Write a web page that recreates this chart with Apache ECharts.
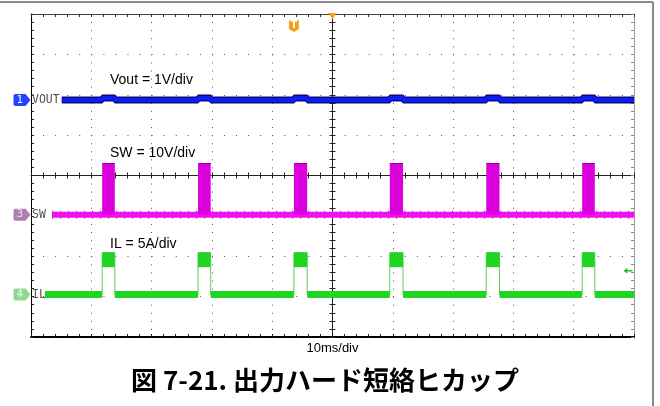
<!DOCTYPE html>
<html>
<head>
<meta charset="utf-8">
<title>図 7-21</title>
<script src="https://cdn.jsdelivr.net/npm/echarts@6/dist/echarts.min.js"></script>
<style>
    html, body { margin: 0; padding: 0; background: #fff; }
    #scope { width: 660px; height: 406px; }
</style>
</head>
<body>
<div id="scope"></div>
<script>
// time axis: ms, 0 = centre of the screen (10ms/div)
const pulseStart = [-38.2, -22.3, -6.4, 9.5, 25.5, 41.4];
const pulseEnd = [-36.1, -20.2, -4.2, 11.7, 27.7, 43.5];
const traceStart = [-44.9, -46.5, -47.7]; // VOUT, SW, IL (after the channel names)
const traceEnd = 50;
const trigTime = -6.4;

// channel values in their own units
const voutBump = [0.05, 0.05, 0.05, 0.05, 0.05, 0.05]; // V
const swHigh = [12.8, 12.8, 12.8, 12.8, 12.8, 12.8];   // V
const ilPeakTop = [5.2, 5.2, 5.2, 5.2, 5.2, 5.2];      // A
const ilPeakBottom = [3.4, 3.4, 3.4, 3.4, 3.4, 3.4];   // A
const ilTrigLevel = 2.95;                              // A

// channel setup
const chName = ["VOUT", "SW", "IL"];
const chNumber = ["1", "3", "4"];
const chScale = [1, 10, 5];           // units per div
const chOffset = [1.87, -0.97, -2.95]; // ground level, div from centre

function toDiv(ch, v) {
    return chOffset[ch] + v / chScale[ch];
}

// step waveform with the pulse windows at the given level
function stepWave(ch, start, levels) {
    const pts = [[start, toDiv(ch, 0)]];
    pulseStart.forEach((s, i) => {
        pts.push([s, toDiv(ch, 0)], [s, toDiv(ch, levels[i])],
                 [pulseEnd[i], toDiv(ch, levels[i])], [pulseEnd[i], toDiv(ch, 0)]);
    });
    pts.push([traceEnd, toDiv(ch, 0)]);
    return pts;
}

// baseline with gaps where the pulses are
function gappedBase(ch, start) {
    const pts = [[start, toDiv(ch, 0)]];
    pulseStart.forEach((s, i) => {
        pts.push([s, toDiv(ch, 0)], "-", [pulseEnd[i], toDiv(ch, 0)]);
    });
    pts.push([traceEnd, toDiv(ch, 0)]);
    return pts;
}

function pulseBoxes(ch, lo, hi) {
    return pulseStart.map((s, i) => [s, pulseEnd[i], toDiv(ch, lo[i]), toDiv(ch, hi[i])]);
}

function rectItem(fill, topEdge) {
    return function (params, api) {
        const a = api.coord([api.value(0), api.value(2)]);
        const b = api.coord([api.value(1), api.value(3)]);
        const children = [{
            type: "rect",
            shape: { x: a[0], y: b[1], width: b[0] - a[0], height: a[1] - b[1] },
            style: { fill: fill },
        }];
        if (topEdge) {
            children.push({
                type: "line",
                shape: { x1: a[0], y1: b[1] + 0.5, x2: b[0], y2: b[1] + 0.5 },
                style: { stroke: topEdge, lineWidth: 1, lineDash: [1, 1] },
            });
        }
        return { type: "group", children: children };
    };
}

function chanMarker(ch, tagColor, textColor) {
    return [
        {
            coord: [-50, toDiv(ch, 0)],
            symbol: "path://M2,0 H12 L17,6 L12,12 H2 Q0,12 0,10 V2 Q0,0 2,0 Z",
            symbolSize: [17, 12],
            symbolOffset: [-9, 0],
            itemStyle: { color: tagColor },
            label: {
                show: true, position: "inside", offset: [-2, 0],
                formatter: chNumber[ch], color: textColor,
                fontSize: 10, fontFamily: "DejaVu Sans",
            },
        },
        {
            coord: [-50, toDiv(ch, 0)],
            symbol: "circle",
            symbolSize: 0,
            label: {
                show: true, position: "right", distance: 1,
                formatter: chName[ch], color: "#555",
                fontSize: 11.5, fontFamily: "DejaVu Sans Mono",
            },
        },
    ];
}

const timeRange = { min: -50, max: 50, interval: 10, axisLabel: { show: false } };
const divRange = { min: -4, max: 4, interval: 1, axisLabel: { show: false } };
const tick = (c) => ({ show: true, inside: true, length: 3, lineStyle: { color: c } });
const minor = (c) => ({ show: true, splitNumber: 5, length: 3, lineStyle: { color: c } });

const chart = echarts.init(document.getElementById("scope"));

chart.setOption({
    animation: false,
    backgroundColor: "#fff",
    grid: { left: 31, right: 26, top: 14, bottom: 69, outerBoundsMode: "none" },
    xAxis: [
        {
            // centre line, ticks up
            type: "value", ...timeRange, position: "bottom",
            axisLine: { onZero: true, onZeroAxisIndex: 0, lineStyle: { color: "#222", width: 1 } },
            axisTick: tick("#222"),
            minorTick: minor("#222"),
            splitLine: { show: true, lineStyle: { color: "#555", width: 1, type: [1, 7.075] } },
        },
        {
            // centre line, ticks down
            type: "value", ...timeRange, position: "top",
            axisLine: { show: false, onZero: true, onZeroAxisIndex: 0 },
            axisTick: tick("#222"),
            minorTick: minor("#222"),
            splitLine: { show: false },
        },
        {
            // bottom border
            type: "value", ...timeRange, position: "bottom",
            axisLine: { onZero: false, lineStyle: { color: "#000", width: 2 } },
            axisTick: tick("#222"),
            minorTick: minor("#222"),
            splitLine: { show: false },
        },
        {
            // top border
            type: "value", ...timeRange, position: "top",
            axisLine: { onZero: false, lineStyle: { color: "#444", width: 1 } },
            axisTick: tick("#333"),
            minorTick: minor("#333"),
            splitLine: { show: false },
        },
    ],
    yAxis: [
        {
            type: "value", ...divRange, position: "left",
            axisLine: { onZero: true, onZeroAxisIndex: 0, lineStyle: { color: "#222", width: 1 } },
            axisTick: tick("#222"),
            minorTick: minor("#222"),
            splitLine: { show: true, lineStyle: { color: "#555", width: 1, type: [1, 11.06] } },
        },
        {
            type: "value", ...divRange, position: "right",
            axisLine: { show: false, onZero: true, onZeroAxisIndex: 0 },
            axisTick: tick("#222"),
            minorTick: minor("#222"),
            splitLine: { show: false },
        },
        {
            type: "value", ...divRange, position: "left",
            axisLine: { onZero: false, lineStyle: { color: "#000", width: 1 } },
            axisTick: tick("#222"),
            minorTick: minor("#222"),
            splitLine: { show: false },
        },
        {
            type: "value", ...divRange, position: "right",
            axisLine: { onZero: false, lineStyle: { color: "#999", width: 1 } },
            axisTick: tick("#888"),
            minorTick: minor("#888"),
            splitLine: { show: false },
        },
    ],
    series: [
        {
            name: "VOUT edge",
            type: "line",
            showSymbol: false,
            data: stepWave(0, traceStart[0], voutBump),
            lineStyle: { color: "#0a0a80", width: 7, join: "bevel" },
            z: 3,
        },
        {
            name: "VOUT",
            type: "line",
            showSymbol: false,
            data: stepWave(0, traceStart[0], voutBump),
            lineStyle: { color: "#0b1ff0", width: 4, join: "bevel" },
            z: 4,
            markPoint: { silent: true, data: chanMarker(0, "#2244ff", "#ffffff") },
        },
        {
            // dark specks along the SW band
            name: "SW noise",
            type: "line",
            showSymbol: false,
            data: [[traceStart[1], toDiv(1, 0)], [traceEnd, toDiv(1, 0)]],
            lineStyle: { color: "#8a2a8a", width: 8, type: [1, 7] },
            z: 2,
        },
        {
            name: "SW",
            type: "line",
            showSymbol: false,
            data: [[traceStart[1], toDiv(1, 0)], [traceEnd, toDiv(1, 0)]],
            lineStyle: { color: "#f010f0", width: 6 },
            z: 3,
            markPoint: {
                silent: true,
                data: chanMarker(1, "#b080b0", "#f4dcf4").concat([
                    {
                        // trigger point
                        coord: [trigTime, 4],
                        symbol: "path://M1,0 H9 Q10,0 10,1 V9 L5,12 L0,9 V1 Q0,0 1,0 Z",
                        symbolSize: [10, 12],
                        symbolOffset: [0, 12],
                        itemStyle: { color: "#f5a01a" },
                        label: {
                            show: true, position: "inside", offset: [0, -1],
                            formatter: "T", color: "#fff",
                            fontSize: 10, fontWeight: "bold", fontFamily: "DejaVu Sans",
                        },
                    },
                    {
                        // horizontal position marker
                        coord: [0, 4],
                        symbol: "triangle",
                        symbolRotate: 180,
                        symbolSize: [9, 6],
                        symbolOffset: [0, 2],
                        itemStyle: { color: "#f5a01a" },
                        label: { show: false },
                    },
                ]),
            },
        },
        {
            name: "SW pulses",
            type: "custom",
            renderItem: rectItem("#dc00dc", "#5a005a"),
            encode: { x: [0, 1], y: [2, 3] },
            data: pulseBoxes(1, [0, 0, 0, 0, 0, 0], swHigh),
            z: 4,
        },
        {
            name: "IL edges",
            type: "line",
            showSymbol: false,
            data: stepWave(2, traceStart[2], ilPeakTop),
            lineStyle: { color: "#58cc58", width: 1 },
            z: 3,
        },
        {
            name: "IL",
            type: "line",
            showSymbol: false,
            connectNulls: false,
            data: gappedBase(2, traceStart[2]),
            lineStyle: { color: "#22d422", width: 7 },
            z: 4,
            markPoint: {
                silent: true,
                data: chanMarker(2, "#90d890", "#e8f8e8").concat([
                    {
                        // trigger level arrow
                        coord: [50, toDiv(2, ilTrigLevel)],
                        symbol: "path://M0,4 L5,0 V3 H12 V5 H5 V8 Z",
                        symbolSize: [9, 6],
                        symbolOffset: [-6, 0],
                        itemStyle: { color: "#22c422" },
                        label: { show: false },
                    },
                ]),
            },
        },
        {
            name: "IL peaks",
            type: "custom",
            renderItem: rectItem("#22d422", null),
            encode: { x: [0, 1], y: [2, 3] },
            data: pulseBoxes(2, ilPeakBottom, ilPeakTop),
            z: 4,
        },
    ],
    graphic: [
        { type: "line", shape: { x1: 0, y1: 2, x2: 653, y2: 2 }, style: { stroke: "#8a8a8a", lineWidth: 2 } },
        { type: "line", shape: { x1: 653, y1: 2, x2: 653, y2: 406 }, style: { stroke: "#8a8a8a", lineWidth: 2 } },
        {
            type: "text", x: 110, y: 80,
            style: { text: "Vout = 1V/div", font: '14px "Liberation Sans"', fill: "#000", verticalAlign: "middle" },
        },
        {
            type: "text", x: 110, y: 153,
            style: { text: "SW = 10V/div", font: '14px "Liberation Sans"', fill: "#000", verticalAlign: "middle" },
        },
        {
            type: "text", x: 110, y: 244,
            style: { text: "IL = 5A/div", font: '14px "Liberation Sans"', fill: "#000", verticalAlign: "middle" },
        },
        {
            type: "text", x: 332.5, y: 348,
            style: { text: "10ms/div", font: '13px "Liberation Sans"', fill: "#000", align: "center", verticalAlign: "middle" },
        },
        {
            type: "text", x: 325, y: 380,
            style: {
                text: "図 7-21. 出力ハード短絡ヒカップ",
                font: 'bold 26px "Noto Sans CJK JP"',
                fill: "#000", align: "center", verticalAlign: "middle",
            },
        },
    ],
});
</script>
</body>
</html>
